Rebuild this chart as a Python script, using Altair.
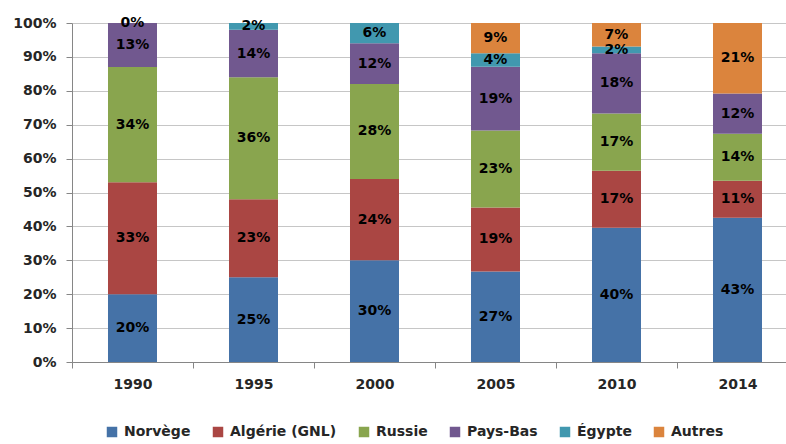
import altair as alt
import pandas as pd

# Gas supply shares by origin (percent), one list per supplier
years = ["1990", "1995", "2000", "2005", "2010", "2014"]
suppliers = ["Norvège", "Algérie (GNL)", "Russie", "Pays-Bas", "Égypte", "Autres"]
colors = ["#4572A7", "#AA4643", "#89A54E", "#71588F", "#4198AF", "#DB843D"]

norvege = [20, 25, 30, 27, 40, 43]
algerie = [33, 23, 24, 19, 17, 11]
russie = [34, 36, 28, 23, 17, 14]
pays_bas = [13, 14, 12, 19, 18, 12]
egypte = [0, 2, 6, 4, 2, None]
autres = [None, None, None, 9, 7, 21]

series = [norvege, algerie, russie, pays_bas, egypte, autres]

rows = []
for idx, (name, values) in enumerate(zip(suppliers, series)):
    for year, v in zip(years, values):
        if v is None:
            continue
        rows.append({"year": year, "supplier": name, "idx": idx, "value": v,
                     "label": f"{v}%"})
df = pd.DataFrame(rows)

FONT = "DejaVu Sans"
FS = 14
TXT = "#262626"

base = alt.Chart(df).transform_stack(
    stack="value",
    groupby=["year"],
    as_=["v0", "v1"],
    offset="normalize",
    sort=[alt.SortField("idx", order="ascending")],
).transform_calculate(mid="(datum.v0 + datum.v1) / 2")

x_axis = alt.Axis(
    labelAngle=0, labelFont=FONT, labelFontSize=FS, labelFontWeight="bold",
    labelColor=TXT, tickBand="extent", tickSize=6, tickColor="#868686",
    domainColor="#868686", labelPadding=9, grid=False,
)
y_axis = alt.Axis(
    format=".0%", values=[i / 10 for i in range(11)], labelFont=FONT,
    labelFontSize=FS, labelFontWeight="bold", labelColor=TXT,
    labelOverlap=False, labelFlush=False, tickCount=11,
    tickSize=6, tickColor="#868686", domainColor="#868686",
    gridColor="#c6c6c6", gridWidth=1.2, labelPadding=10,
)
y_scale = alt.Scale(domain=[0, 1], nice=False)
x_scale = alt.Scale(paddingInner=0, paddingOuter=0, range=[0, 726])

bars = base.mark_bar(width=alt.RelativeBandSize(0.405)).encode(
    x=alt.X("year:N", sort=years, title=None, scale=x_scale, axis=x_axis),
    y=alt.Y("v0:Q", title=None, scale=y_scale, axis=y_axis),
    y2="v1:Q",
    color=alt.Color(
        "supplier:N",
        sort=suppliers,
        scale=alt.Scale(domain=suppliers, range=colors),
        legend=alt.Legend(
            title=None, orient="none", direction="horizontal",
            legendX=33, legendY=402, symbolType="square", symbolSize=110,
            symbolStrokeWidth=0, labelFont=FONT, labelFontSize=FS,
            labelFontWeight="bold", labelColor=TXT, columnPadding=20,
            labelOffset=5,
        ),
    ),
)

labels = base.mark_text(font=FONT, fontSize=FS, fontWeight="bold", color="black").encode(
    x=alt.X("year:N", sort=years, title=None, scale=x_scale, axis=x_axis),
    y=alt.Y("mid:Q", title=None, scale=y_scale, axis=y_axis),
    text="label:N",
)

chart = (
    alt.layer(bars, labels)
    .properties(
        width=714,
        height=339,
        autosize=alt.AutoSizeParams(type="none"),
        padding={"left": 72, "top": 23, "right": 0, "bottom": 82},
        background="white",
    )
    .configure_view(stroke=None)
)

chart.save("out.html", embed_options={"renderer": "svg", "actions": False})
